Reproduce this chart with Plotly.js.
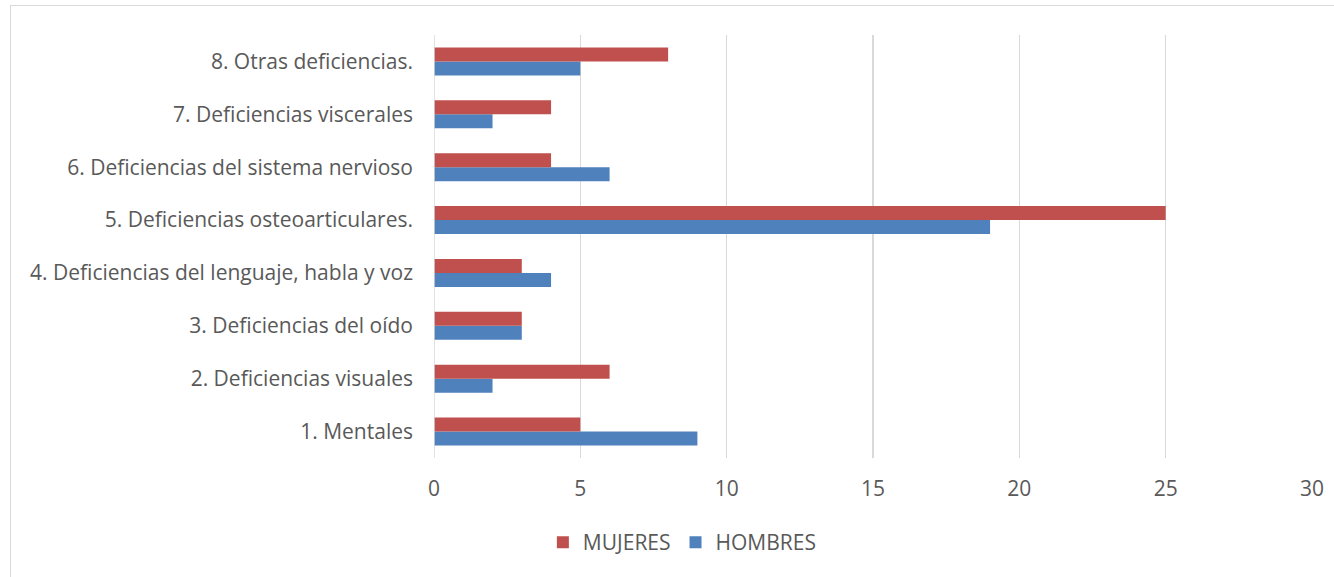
<!DOCTYPE html>
<html>
<head>
<meta charset="utf-8">
<script src="https://cdn.plot.ly/plotly-3.0.1.min.js"></script>
<style>
html,body{margin:0;padding:0;background:#fff;}
#wrap{position:relative;width:1334px;height:577px;}
#chart{width:1334px;height:577px;}
#frame{position:absolute;left:10px;top:5px;width:1330px;height:580px;border:1px solid #d9d9d9;pointer-events:none;}
</style>
</head>
<body>
<div id="wrap"><div id="chart"></div><div id="frame"></div></div>
<script>
const categories = [
  "1. Mentales",
  "2. Deficiencias visuales",
  "3. Deficiencias del oído",
  "4. Deficiencias del lenguaje, habla y voz",
  "5. Deficiencias osteoarticulares.",
  "6. Deficiencias del sistema nervioso",
  "7. Deficiencias viscerales",
  "8. Otras deficiencias."
];
const hombres = [9, 2, 3, 4, 19, 6, 2, 5];
const mujeres = [5, 6, 3, 3, 25, 4, 4, 8];
const xTicks = [0, 5, 10, 15, 20, 25, 30];

const font = {family: "'Open Sans', 'Noto Sans', sans-serif", size: 21, color: "#595959"};

const traces = [
  {type: "bar", orientation: "h", name: "HOMBRES", y: categories, x: hombres,
   marker: {color: "#4F81BD"}},
  {type: "bar", orientation: "h", name: "MUJERES", y: categories, x: mujeres,
   marker: {color: "#C0504D"}}
];

const layout = {
  width: 1334, height: 577,
  margin: {l: 434, r: 22, t: 35, b: 119},
  paper_bgcolor: "#fff", plot_bgcolor: "#fff",
  font: font,
  barmode: "group",
  bargap: 0.47,
  bargroupgap: 0,
  xaxis: {
    range: [0, 30], tickvals: xTicks, ticktext: xTicks.map(String),
    showgrid: true, gridcolor: "#d9d9d9", gridwidth: 1.5,
    zeroline: false, showline: false, ticks: "",
    ticklabelstandoff: 16,
    tickfont: font, fixedrange: true
  },
  yaxis: {
    type: "category", categoryorder: "array", categoryarray: categories,
    showgrid: false, zeroline: false,
    showline: false, ticks: "",
    ticklabelstandoff: 20,
    tickfont: font, fixedrange: true
  },
  shapes: [{type: "line", xref: "x", yref: "paper", x0: 0, x1: 0, y0: 0, y1: 1,
            line: {color: "#d9d9d9", width: 1.5}}],
  showlegend: true,
  legend: {orientation: "h", traceorder: "reversed", x: 0.124, xanchor: "left",
           y: -0.2, yanchor: "middle", font: font, itemwidth: 30, tracegroupgap: 0},
};

Plotly.newPlot("chart", traces, layout, {displayModeBar: false, staticPlot: true});
</script>
</body>
</html>
